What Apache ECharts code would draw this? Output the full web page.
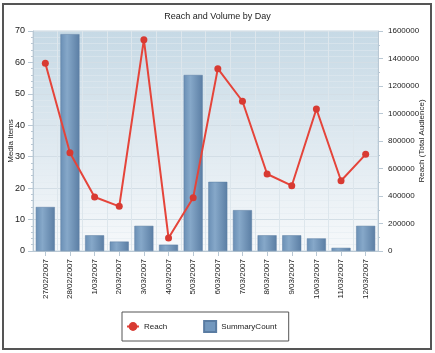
<!DOCTYPE html>
<html>
<head>
<meta charset="utf-8">
<script src="https://cdn.jsdelivr.net/npm/echarts@6/dist/echarts.min.js"></script>
<style>
  html, body { margin: 0; padding: 0; background: #fff; }
  #chart { width: 435px; height: 353px; }
</style>
</head>
<body>
<div id="chart"></div>
<script>
// data
var days = ['27/02/2007', '28/02/2007', '1/03/2007', '2/03/2007', '3/03/2007', '4/03/2007', '5/03/2007',
  '6/03/2007', '7/03/2007', '8/03/2007', '9/03/2007', '10/03/2007', '11/03/2007', '12/03/2007']
var summaryCount = [14, 69, 5, 3, 8, 2, 56, 22, 13, 5, 5, 4, 1, 8]
var reach = [1365000, 715000, 393000, 325000, 1537000, 95000, 388000,
  1326000, 1089000, 560000, 475000, 1033000, 511000, 703000]

var chart = echarts.init(document.getElementById('chart'))
var font = 'Liberation Sans, Arial, sans-serif'

chart.setOption({
  animation: false,
  textStyle: { fontFamily: font },
  title: {
    text: 'Reach and Volume by Day',
    left: 'center',
    top: 7,
    textStyle: { fontSize: 9, fontWeight: 'normal', color: '#222', fontFamily: font }
  },
  graphic: [{
    type: 'rect',
    shape: { x: 3, y: 4, width: 428, height: 345 },
    style: { fill: 'none', stroke: '#555', lineWidth: 2 },
    z: 100
  }],
  grid: {
    left: 33,
    right: 57,
    top: 31,
    bottom: 102,
    outerBoundsMode: 'none',
    show: true,
    borderWidth: 1,
    borderColor: '#c8d6e0',
    backgroundColor: {
      type: 'linear', x: 0, y: 0, x2: 0, y2: 1,
      colorStops: [
        { offset: 0, color: '#c6d9e5' },
        { offset: 1, color: '#f7f9fb' }
      ]
    }
  },
  legend: {
    data: [
      { name: 'Reach' },
      { name: 'SummaryCount', icon: 'rect', itemStyle: { color: '#7398be' } }
    ],
    left: 122,
    top: 312,
    itemGap: 36,
    itemWidth: 12,
    itemHeight: 11,
    padding: [8, 12, 8, 4],
    borderColor: '#555',
    borderWidth: 1,
    textStyle: { fontSize: 8, color: '#222', fontFamily: font }
  },
  xAxis: {
    type: 'category',
    data: days,
    axisLine: { lineStyle: { color: '#b9c8d4' } },
    axisTick: { show: true, alignWithLabel: true, lineStyle: { color: '#b9c8d4' } },
    axisLabel: { rotate: 90, fontSize: 8, color: '#222', margin: 8, interval: 0 },
    splitLine: { show: true, lineStyle: { color: '#dde6ec' } }
  },
  yAxis: [{
    type: 'value',
    name: 'Media Items',
    nameLocation: 'middle',
    nameGap: 18,
    nameMoveOverlap: false,
    nameTextStyle: { fontSize: 8, color: '#222' },
    min: 0,
    max: 70,
    interval: 10,
    axisLine: { show: true, lineStyle: { color: '#b9c8d4' } },
    axisTick: { show: true, lineStyle: { color: '#b9c8d4' } },
    minorTick: { show: true, splitNumber: 5, length: 2, lineStyle: { color: '#b9c8d4' } },
    axisLabel: { fontSize: 9, color: '#222' },
    splitLine: { show: true, lineStyle: { color: '#d3dee6' } },
    minorSplitLine: { show: true, lineStyle: { color: '#e3eaf0', width: 0.5 } }
  }, {
    type: 'value',
    name: 'Reach (Total Audience)',
    nameLocation: 'middle',
    nameRotate: 90,
    nameGap: 40,
    nameMoveOverlap: false,
    nameTextStyle: { fontSize: 8, color: '#222' },
    min: 0,
    max: 1600000,
    interval: 200000,
    axisLine: { show: true, lineStyle: { color: '#b9c8d4' } },
    axisTick: { show: true, lineStyle: { color: '#b9c8d4' } },
    minorTick: { show: true, splitNumber: 2, length: 2, lineStyle: { color: '#b9c8d4' } },
    axisLabel: { fontSize: 8, color: '#222', margin: 10, formatter: function (v) { return String(v) } },
    splitLine: { show: false }
  }],
  series: [{
    name: 'SummaryCount',
    type: 'bar',
    data: summaryCount,
    barWidth: 19,
    itemStyle: {
      color: {
        type: 'linear', x: 0, y: 0, x2: 1, y2: 0,
        colorStops: [
          { offset: 0, color: '#6a8fb5' },
          { offset: 0.35, color: '#86a8c9' },
          { offset: 1, color: '#5b7ea4' }
        ]
      },
      borderColor: '#5a7ca2',
      borderWidth: 0.5
    }
  }, {
    name: 'Reach',
    type: 'line',
    yAxisIndex: 1,
    data: reach,
    symbol: 'circle',
    symbolSize: 7,
    z: 5,
    lineStyle: { color: '#e5443a', width: 2 },
    itemStyle: { color: '#d83a32' }
  }]
})
</script>
</body>
</html>
